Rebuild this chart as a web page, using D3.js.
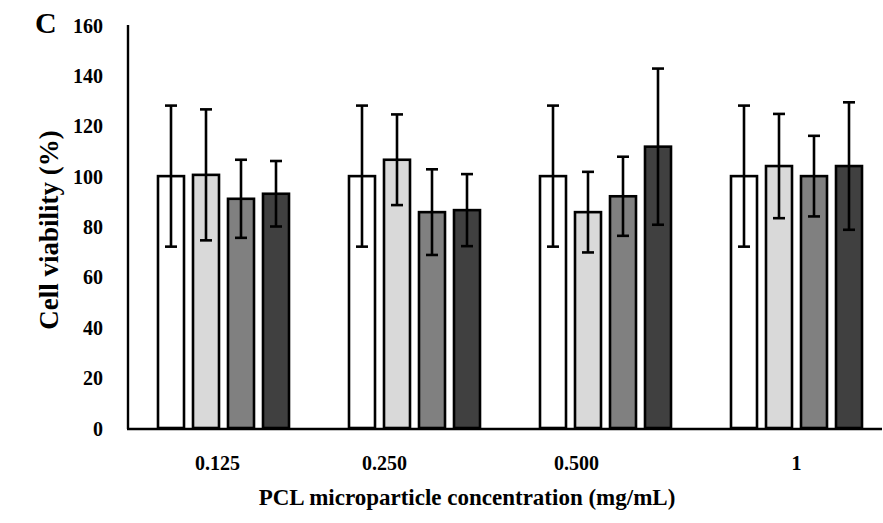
<!DOCTYPE html>
<html>
<head>
<meta charset="utf-8">
<script src="https://cdn.jsdelivr.net/npm/d3@7"></script>
<style>
  html, body { margin: 0; padding: 0; background: #fff; }
  svg { display: block; }
  text { font-family: "Liberation Serif", "Times New Roman", serif; font-weight: bold; fill: #000; }
</style>
</head>
<body>
<svg id="chart" width="883" height="523"></svg>
<script>
// Concentrations (mg/mL) on the x axis
const categories = ["0.125", "0.250", "0.500", "1"];
// Four treatment series per concentration
const seriesNames = ["S1", "S2", "S3", "S4"];
const seriesColors = ["#ffffff", "#d9d9d9", "#808080", "#404040"];
// Mean cell viability (%) per series, one value per concentration
const s1Mean = [100, 100, 100, 100];
const s2Mean = [100.5, 106.5, 85.7, 104];
const s3Mean = [91, 85.7, 92, 100];
const s4Mean = [93, 86.5, 111.7, 104];
// Standard deviations (%)
const s1Err = [28, 28, 28, 28];
const s2Err = [26, 18, 16, 20.7];
const s3Err = [15.5, 17, 15.7, 16];
const s4Err = [13, 14.3, 31, 25.3];
// Y axis ticks
const yTicks = [0, 20, 40, 60, 80, 100, 120, 140, 160];

(function () {
  const means = [s1Mean, s2Mean, s3Mean, s4Mean];
  const errs = [s1Err, s2Err, s3Err, s4Err];

  const rows = [];
  categories.forEach((c, ci) => {
    seriesNames.forEach((s, si) => {
      rows.push({ cat: c, series: s, si, value: means[si][ci], err: errs[si][ci] });
    });
  });

  const svg = d3.select("#chart");
  const mLeft = 128, mRight = 892, mTop = 25, mBottom = 428;

  const x0 = d3.scaleBand().domain(categories).range([mLeft, mRight]).padding(0);
  const x1 = d3.scaleBand().domain(seriesNames).range([-70, 70]).paddingInner(0.2).paddingOuter(0.1);
  const y = d3.scaleLinear().domain([0, 160]).range([mBottom, mTop]);
  const color = d3.scaleOrdinal().domain(seriesNames).range(seriesColors);

  // Panel letter
  svg.append("text").attr("x", 35).attr("y", 33).style("font-size", "30px").text("C");

  // Y axis: labels only, no tick marks
  const yAxis = svg.append("g")
    .attr("transform", `translate(${mLeft},0)`)
    .call(d3.axisLeft(y).tickValues(yTicks).tickSize(0).tickPadding(25));
  yAxis.select(".domain").remove();
  yAxis.selectAll("text")
    .style("font-family", '"Liberation Serif", serif')
    .style("font-weight", "bold")
    .style("font-size", "20px")
    .attr("dy", "0.35em");

  // Bars
  svg.append("g").selectAll("rect")
    .data(rows)
    .join("rect")
    .attr("x", d => x0(d.cat) + x0.bandwidth() / 2 + x1(d.series) + 1)
    .attr("y", d => y(d.value))
    .attr("width", x1.bandwidth() - 2)
    .attr("height", d => y(0) - y(d.value))
    .attr("fill", d => color(d.series))
    .attr("stroke", "#000")
    .attr("stroke-width", 2.6);

  // Error bars
  const cx = d => x0(d.cat) + x0.bandwidth() / 2 + x1(d.series) + x1.bandwidth() / 2;
  const errG = svg.append("g").attr("stroke", "#000").attr("stroke-width", 2.6);
  errG.selectAll("line.v")
    .data(rows).join("line").attr("class", "v")
    .attr("x1", cx).attr("x2", cx)
    .attr("y1", d => y(d.value + d.err)).attr("y2", d => y(d.value - d.err));
  errG.selectAll("line.t")
    .data(rows).join("line").attr("class", "t")
    .attr("x1", d => cx(d) - 6).attr("x2", d => cx(d) + 6)
    .attr("y1", d => y(d.value + d.err)).attr("y2", d => y(d.value + d.err));
  errG.selectAll("line.b")
    .data(rows).join("line").attr("class", "b")
    .attr("x1", d => cx(d) - 6).attr("x2", d => cx(d) + 6)
    .attr("y1", d => y(d.value - d.err)).attr("y2", d => y(d.value - d.err));

  // Axis lines
  svg.append("line").attr("x1", mLeft).attr("x2", mLeft).attr("y1", mTop).attr("y2", mBottom + 1)
    .attr("stroke", "#000").attr("stroke-width", 2.4);
  svg.append("line").attr("x1", mLeft - 1).attr("x2", 882).attr("y1", mBottom + 1).attr("y2", mBottom + 1)
    .attr("stroke", "#000").attr("stroke-width", 2.4);

  // Category labels (the left three sit a little left of their group centre)
  const labelNudge = [-6, -30, -29, 0];
  svg.append("g").selectAll("text")
    .data(categories)
    .join("text")
    .attr("x", (d, i) => x0(d) + x0.bandwidth() / 2 + labelNudge[i])
    .attr("y", 463)
    .attr("dy", "0.35em")
    .attr("text-anchor", "middle")
    .style("font-size", "20px")
    .text(d => d);

  // Axis titles
  svg.append("text")
    .attr("x", 467).attr("y", 505)
    .attr("text-anchor", "middle")
    .style("font-size", "23px")
    .text("PCL microparticle concentration (mg/mL)");

  svg.append("text")
    .attr("transform", "translate(58,230) rotate(-90)")
    .attr("text-anchor", "middle")
    .style("font-size", "27px")
    .text("Cell viability (%)");
})();
</script>
</body>
</html>
